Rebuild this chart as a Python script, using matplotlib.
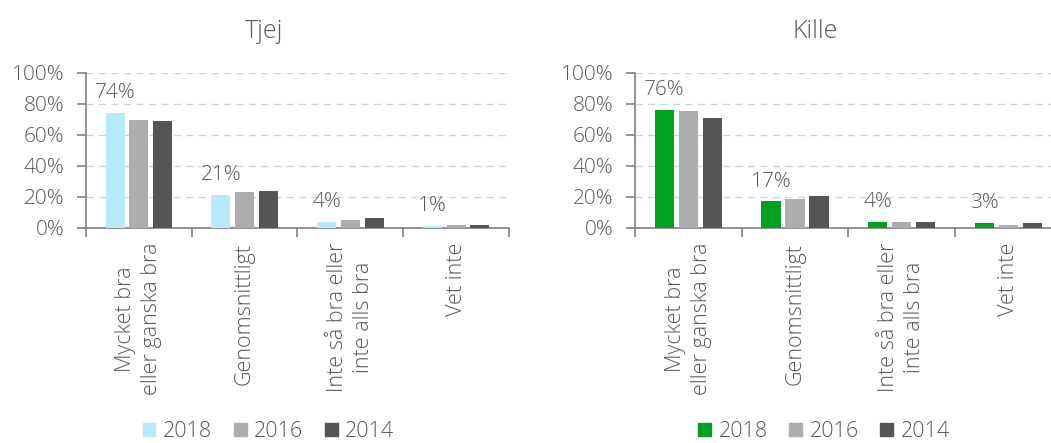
import matplotlib
matplotlib.use("Agg")
import matplotlib.pyplot as plt
import numpy as np
from matplotlib.patches import Patch

plt.rcParams['font.family'] = ['Open Sans', 'DejaVu Sans']
plt.rcParams['font.weight'] = 'light'

kategorier = ['Mycket bra\neller ganska bra', 'Genomsnittligt',
              'Inte så bra eller\ninte alls bra', 'Vet inte']
ar = ['2018', '2016', '2014']

tjej_2018 = [74, 21, 4, 1]
tjej_2016 = [69.5, 22.8, 5, 1.5]
tjej_2014 = [68.8, 23.9, 6, 1.5]

kille_2018 = [76, 17, 4, 3]
kille_2016 = [75, 18.5, 4, 1.5]
kille_2014 = [70.5, 20.5, 4, 3]

grå_text = '#595959'
axel_färg = '#808080'
fs = 15


def rita(ax, serier, farger):
    indices = np.arange(len(kategorier))
    bredd = 0.18
    steg = 0.225
    for i, (varden, farg) in enumerate(zip(serier, farger)):
        staplar = ax.bar(indices + (i - 1) * steg, varden, bredd, color=farg, zorder=3)
        if i == 0:
            # etikett bara på 2018
            for s, v in zip(staplar, varden):
                ax.annotate(f'{v:.0f}%', (s.get_x() + s.get_width() / 2, v),
                            xytext=(0, 7), textcoords='offset points',
                            ha='center', va='bottom', fontsize=fs, color=grå_text)

    ax.set_ylim(0, 100)
    ax.set_xlim(-0.5, len(kategorier) - 0.5)
    ax.set_yticks([0, 20, 40, 60, 80, 100])
    ax.set_yticklabels([f'{t}%' for t in [0, 20, 40, 60, 80, 100]], fontsize=fs, color=grå_text)
    ax.set_xticks(indices)
    ax.set_xticklabels(kategorier, rotation=90, fontsize=15.5, color=grå_text,
                       va='top', ha='center', multialignment='center', linespacing=1.3)
    ax.tick_params(axis='x', which='major', length=0, pad=11)
    ax.set_xticks(np.arange(-0.5, len(kategorier)), minor=True)
    ax.tick_params(axis='x', which='minor', length=6.5, color=axel_färg, width=1.2)
    ax.tick_params(axis='y', length=6.5, color=axel_färg, width=1.2, pad=9)

    ax.grid(axis='y', linestyle=(0, (5, 4)), color='#D0D4D4', linewidth=1, zorder=0)
    for side in ['top', 'right']:
        ax.spines[side].set_visible(False)
    for side in ['left', 'bottom']:
        ax.spines[side].set_color(axel_färg)
        ax.spines[side].set_linewidth(1.2)


fig = plt.figure(figsize=(10.51, 4.43), dpi=100)
ax1 = fig.add_axes([0.0818, 0.486, 0.4025, 0.35])
ax2 = fig.add_axes([0.604, 0.486, 0.4065, 0.35])

farger_tjej = ['#B7EBF9', '#ADADAD', '#555555']
farger_kille = ['#00A020', '#ADADAD', '#555555']

rita(ax1, [tjej_2018, tjej_2016, tjej_2014], farger_tjej)
rita(ax2, [kille_2018, kille_2016, kille_2014], farger_kille)

fig.text(0.251, 0.928, 'Tjej', ha='center', va='center', fontsize=18, color=grå_text)
fig.text(0.776, 0.928, 'Kille', ha='center', va='center', fontsize=18, color=grå_text)

for farger, x in [(farger_tjej, 0.2555), (farger_kille, 0.784)]:
    handtag = [Patch(color=f, label=a) for f, a in zip(farger, ar)]
    fig.legend(handles=handtag, loc='center', bbox_to_anchor=(x, 0.026), ncol=3,
               frameon=False, fontsize=15.5, labelcolor=grå_text, borderpad=0,
               handlelength=0.6, handleheight=0.6, handletextpad=0.35, columnspacing=1.0)

fig.savefig('out.png', dpi=100)
